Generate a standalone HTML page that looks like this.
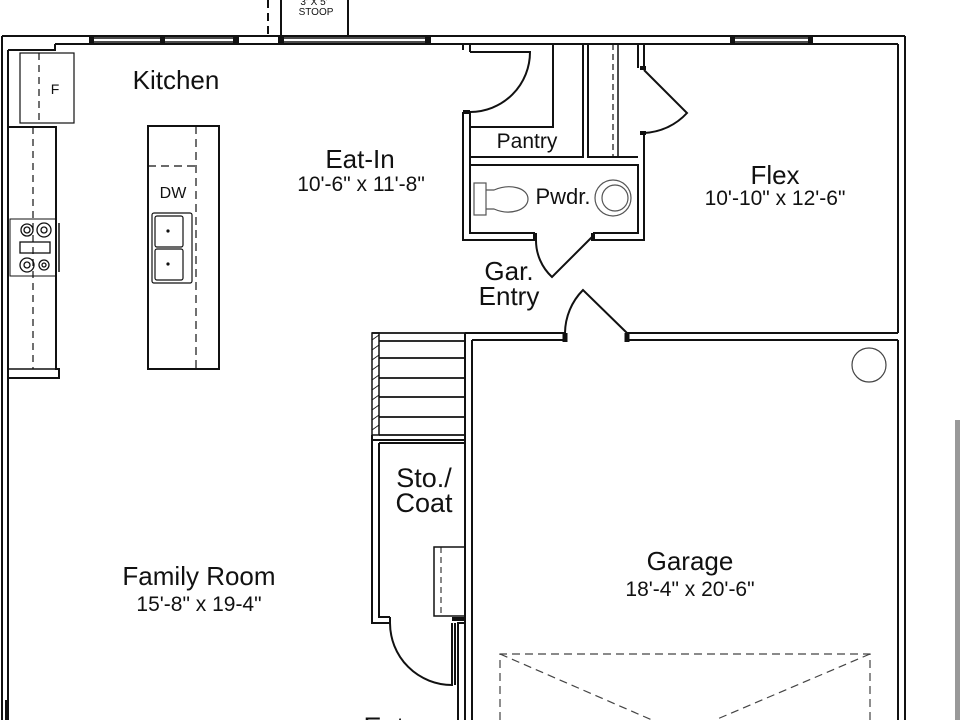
<!DOCTYPE html>
<html><head><meta charset="utf-8"><style>
html,body{margin:0;padding:0;background:#fff;width:960px;height:720px;overflow:hidden}
svg{display:block}
text{font-family:"Liberation Sans",sans-serif;fill:#111;text-anchor:middle}
</style></head><body>
<svg width="960" height="720" viewBox="0 0 960 720" xmlns="http://www.w3.org/2000/svg">
<g fill="none" stroke="#111" stroke-width="2">
<line x1="268" y1="0" x2="268" y2="36" stroke-dasharray="8,5"/>
<path d="M281 0 V36 M348 0 V36"/>
<path d="M2 36 H905 M55 44 H898 M8 50 H55 V44"/>
<path d="M2 36 V720 M8 50 V720"/>
<g stroke-width="1.5">
<path d="M92 38 H233 M92 42 H233 M282 38 H428 M282 42 H428 M734 38 H810 M734 42 H810"/>
</g>
<g fill="#111" stroke="none">
<rect x="89" y="35" width="5" height="10"/><rect x="160" y="35" width="5" height="10"/><rect x="233" y="35" width="6" height="10"/>
<rect x="278" y="35" width="6" height="10"/><rect x="425" y="35" width="6" height="10"/>
<rect x="730" y="35" width="5" height="10"/><rect x="808" y="35" width="5" height="10"/>
</g>
<path d="M905 36 V720 M898 44 V333 M898 340 V720"/>
<path d="M465 333 H565 M627 333 H898 M472 340 H565 M627 340 H898"/>
<path d="M565 333 V342 M627 333 V342" stroke-width="5"/>
<path d="M565 333 A62 62 0 0 1 583 290 L627 333"/>
<path d="M465 333 V720 M472 340 V720"/>
<path d="M463 44 V50 M470 44 V52"/>
<path d="M463 112 V240 H535 M470 112 V233 H535 M593 240 H644 V133 M593 233 H638 V165 H471"/>
<path d="M463 112 h7" stroke-width="4"/>
<path d="M470 52 H530 A60 60 0 0 1 470 112"/>
<path d="M471 127 H553 V44"/>
<path d="M471 157 H583 V44 M588 44 V157 H638"/>
<path d="M644 44 V68 M638 44 V68"/>
<path d="M640 68 h6 M640 133 h6" stroke-width="4"/>
<path d="M644 70 L687 113 A62 62 0 0 1 644 133"/>
<line x1="613" y1="44" x2="613" y2="157" stroke-dasharray="6,4" stroke-width="1.2"/>
<line x1="618" y1="44" x2="618" y2="157" stroke-width="1.5"/>
<path d="M535 233 V241 M593 233 V241" stroke-width="4"/>
<path d="M593 236 L552 277 A50 50 0 0 1 536 240"/>
<g stroke-width="1.2" stroke="#555">
<rect x="474" y="183" width="12" height="32"/>
<path d="M486 190 H494 C510 183 528 188 528 199 C528 210 510 216 494 209 H486"/>
<circle cx="613" cy="198" r="18"/><circle cx="615" cy="198" r="13"/>
</g>
<circle cx="869" cy="365" r="17" stroke-width="1.2" stroke="#444"/>
<g stroke-dasharray="8,5" stroke-width="1.2" stroke="#444">
<path d="M500 720 V654 H870 V720"/>
<path d="M500 654 L652 720 M870 654 L715 720"/>
</g>
<rect x="20" y="53" width="54" height="70" stroke-width="1.2"/>
<line x1="39" y1="53" x2="39" y2="123" stroke-dasharray="7,5" stroke-width="1.2"/>
<path d="M8 127 H56 V369 H59 V378 H8"/>
<path d="M8 369 H56" stroke-width="1.5"/>
<line x1="33" y1="127" x2="33" y2="369" stroke-dasharray="7,5" stroke-width="1.2"/>
<rect x="10" y="219" width="46" height="57" stroke-width="1"/>
<line x1="59" y1="223" x2="59" y2="272" stroke-width="1.5"/>
<g stroke-width="1.3">
<circle cx="27" cy="230" r="6"/><circle cx="27" cy="230" r="3"/>
<circle cx="44" cy="230" r="7"/><circle cx="44" cy="230" r="3"/>
<circle cx="27" cy="265" r="7"/><circle cx="27" cy="265" r="3"/>
<circle cx="44" cy="265" r="5"/><circle cx="44" cy="265" r="2"/>
<rect x="20" y="242" width="30" height="11"/>
</g>
<rect x="148" y="126" width="71" height="243"/>
<path d="M148 166 H196" stroke-dasharray="8,5" stroke-width="1.2"/>
<line x1="196" y1="126" x2="196" y2="369" stroke-dasharray="8,5" stroke-width="1.2"/>
<g stroke-width="1.2">
<rect x="152" y="213" width="40" height="70" rx="2"/>
<rect x="155" y="216" width="28" height="31" rx="2"/>
<rect x="155" y="249" width="28" height="31" rx="2"/>
</g>
<g fill="#111" stroke="none"><circle cx="168" cy="231" r="1.6"/><circle cx="168" cy="264" r="1.6"/></g>
<rect x="372" y="333" width="7" height="102" stroke-width="1.5"/>
<path d="M372 333 H465 M379 341 H465 M379 358 H465 M379 378 H465 M379 397 H465 M379 417 H465 M379 435 H465" stroke-width="1.8"/>
<g stroke-width="0.8"><path d="M372 340 l7 -5 M372 350 l7 -5 M372 360 l7 -5 M372 370 l7 -5 M372 380 l7 -5 M372 390 l7 -5 M372 400 l7 -5 M372 410 l7 -5 M372 420 l7 -5 M372 430 l7 -5"/></g>
<path d="M372 435 V623 H390 V617 M379 443 H465 M379 443 V617 H390"/>
<path d="M372 440 H465"/>
<path d="M390 623 A62 62 0 0 0 452 685 V623 M455 685 V623"/>
<path d="M458 720 V623 H465"/>
<path d="M452 619 h13" stroke-width="4"/>
<rect x="434" y="547" width="31" height="69" stroke-width="1.5"/>
<line x1="441" y1="547" x2="441" y2="616" stroke-dasharray="6,4" stroke-width="1"/>
<path d="M2 700 V720 M6 700 V720" stroke-width="2"/>
</g>
<rect x="955" y="420" width="5" height="300" fill="#999"/>
<text x="314" y="5" font-size="10">3' X 5'</text>
<text x="316" y="15" font-size="10">STOOP</text>
<text x="176" y="89" font-size="26">Kitchen</text>
<text x="55" y="94" font-size="14">F</text>
<text x="173" y="198" font-size="16">DW</text>
<text x="360" y="168" font-size="26">Eat-In</text>
<text x="361" y="191" font-size="21">10'-6" x 11'-8"</text>
<text x="527" y="148" font-size="21">Pantry</text>
<text x="563" y="204" font-size="22">Pwdr.</text>
<text x="509" y="280" font-size="26">Gar.</text>
<text x="509" y="305" font-size="26">Entry</text>
<text x="775" y="184" font-size="26">Flex</text>
<text x="775" y="205" font-size="21">10'-10" x 12'-6"</text>
<text x="690" y="570" font-size="26">Garage</text>
<text x="690" y="596" font-size="21">18'-4" x 20'-6"</text>
<text x="424" y="487" font-size="27">Sto./</text>
<text x="424" y="512" font-size="27">Coat</text>
<text x="199" y="585" font-size="26">Family Room</text>
<text x="199" y="611" font-size="21">15'-8" x 19-4"</text>
<text x="395" y="736" font-size="27">Entry</text>
</svg>
</body></html>
